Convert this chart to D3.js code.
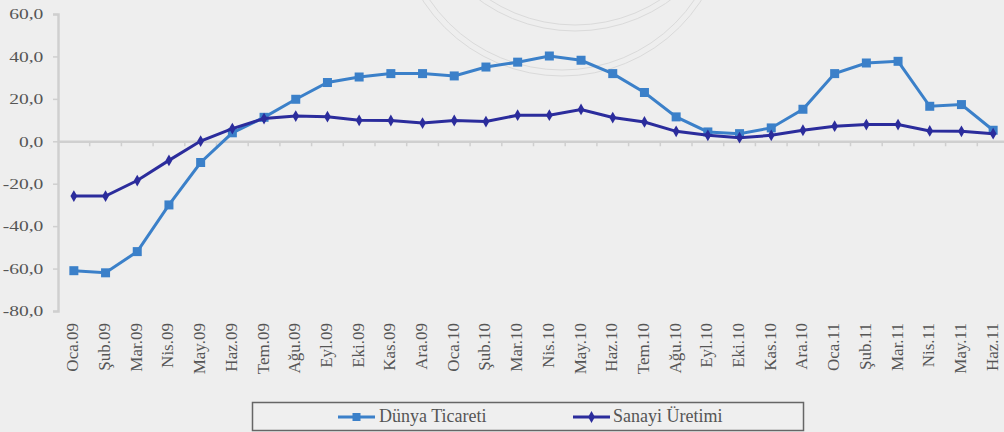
<!DOCTYPE html>
<html><head><meta charset="utf-8">
<script src="https://cdn.jsdelivr.net/npm/d3@7"></script>
<style>html,body{margin:0;padding:0;background:#eeeeee;}svg{display:block;}</style>
</head><body>
<svg id="c" width="1004" height="432"></svg>
<script>
const categories = ["Oca.09","Şub.09","Mar.09","Nis.09","May.09","Haz.09","Tem.09","Ağu.09","Eyl.09","Eki.09","Kas.09","Ara.09",
"Oca.10","Şub.10","Mar.10","Nis.10","May.10","Haz.10","Tem.10","Ağu.10","Eyl.10","Eki.10","Kas.10","Ara.10",
"Oca.11","Şub.11","Mar.11","Nis.11","May.11","Haz.11"];
const dunyaTicareti = [-61,-62,-52,-30,-10,4,11.3,19.8,27.7,30.3,31.9,31.9,30.8,35,37.3,40.2,38.2,31.9,23,11.5,4.4,3.6,6.3,15.1,31.9,36.9,37.7,16.5,17.3,5.2];
const sanayiUretimi = [-25.8,-25.8,-18.5,-9,0.1,6,10.7,11.9,11.6,9.9,9.8,8.6,9.8,9.3,12.3,12.3,15,11.2,9.1,4.7,2.8,1.7,2.8,5.2,7.1,7.9,7.9,4.9,4.7,3.6];
const yTicks = [60,40,20,0,-20,-40,-60,-80];
const seriesNames = ["Dünya Ticareti","Sanayi Üretimi"];

const svg = d3.select("#c");
const font = '"Liberation Serif"';
const textColor = "#555555";

svg.append("rect").attr("width",1004).attr("height",432).attr("fill","#eeeeee");

// faint watermark arcs
const wm = svg.append("g").attr("fill","none").attr("stroke","#dadada").attr("stroke-width",1);
[[562,-90,160],[562,-90,166],[575,-132,157],[575,-132,163]].forEach(([cx,cy,r])=>{
  wm.append("circle").attr("cx",cx).attr("cy",cy).attr("r",r);
});

const x = d3.scaleBand().domain(categories).range([58, 58+30*31.7]);
const y = d3.scaleLinear().domain([-80,60]).range([311,14]);

// y axis
const yAxis = d3.axisLeft(y).tickValues(yTicks).tickSize(5).tickFormat(d=>d3.format(".1f")(d).replace(".",",").replace("−","-"));
const gy = svg.append("g").attr("transform","translate(58,0)").call(yAxis);
gy.select(".domain").attr("stroke","#cfcfcf").attr("stroke-width",2.5);
gy.selectAll(".tick line").attr("stroke","#cfcfcf").attr("stroke-width",1.5);
gy.selectAll(".tick text").style("font-family",font).style("font-size","15px").attr("fill",textColor)
  .attr("x",-11.3).attr("transform","scale(1.3,1)");

// x axis at zero
const xAxis = d3.axisBottom(x).tickSize(0).tickSizeOuter(0);
const gx = svg.append("g").attr("transform",`translate(0,${y(0)})`).call(xAxis);
gx.select(".domain").attr("stroke","#cfcfcf").attr("stroke-width",2.5);
gx.selectAll(".tick text").remove();
// ticks between categories
svg.append("g").selectAll("line").data(categories.slice(1)).join("line")
  .attr("x1",d=>x(d)).attr("x2",d=>x(d)).attr("y1",y(0)).attr("y2",y(0)+5)
  .attr("stroke","#cfcfcf").attr("stroke-width",1.5);

// x labels
svg.append("g").selectAll("text").data(categories).join("text")
  .attr("transform",d=>`translate(${x(d)+x.bandwidth()/2+4.5},323) rotate(-90)`)
  .attr("text-anchor","end").style("font-family",font).style("font-size","17px").attr("fill",textColor)
  .text(d=>d);

const line = d3.line().x((d,i)=>x(categories[i])+x.bandwidth()/2).y(d=>y(d));
const colors = ["#3b80c9","#2b2c9c"];

// Dünya
svg.append("path").datum(dunyaTicareti).attr("d",line).attr("fill","none").attr("stroke",colors[0]).attr("stroke-width",3);
svg.append("g").selectAll("rect").data(dunyaTicareti).join("rect")
  .attr("x",(d,i)=>x(categories[i])+x.bandwidth()/2-4.5).attr("y",d=>y(d)-4.5)
  .attr("width",9).attr("height",9).attr("fill",colors[0]);

// Sanayi
svg.append("path").datum(sanayiUretimi).attr("d",line).attr("fill","none").attr("stroke",colors[1]).attr("stroke-width",3);
const diamond = d3.symbol().type(d3.symbolDiamond).size(40);
svg.append("g").selectAll("path").data(sanayiUretimi).join("path")
  .attr("transform",(d,i)=>`translate(${x(categories[i])+x.bandwidth()/2},${y(d)})`)
  .attr("d",diamond).attr("fill",colors[1]);

// legend
const lg = svg.append("g");
lg.append("rect").attr("x",252.5).attr("y",402.5).attr("width",551).attr("height",28).attr("fill","#efefef").attr("stroke","#666").attr("stroke-width",1.5);
const items = [{x:338, tx:379},{x:573, tx:613}];
items.forEach((it,k)=>{
  lg.append("line").attr("x1",it.x).attr("x2",it.x+37).attr("y1",417).attr("y2",417).attr("stroke",colors[k]).attr("stroke-width",3);
  if(k===0){
    lg.append("rect").attr("x",it.x+18.5-4).attr("y",413).attr("width",8).attr("height",8).attr("fill",colors[k]);
  } else {
    lg.append("path").attr("transform",`translate(${it.x+18.5},417)`).attr("d",diamond).attr("fill",colors[k]);
  }
  lg.append("text").attr("x",it.tx).attr("y",422).style("font-family",font).style("font-size","18px").attr("fill",textColor).text(seriesNames[k]);
});
</script>
</body></html>
